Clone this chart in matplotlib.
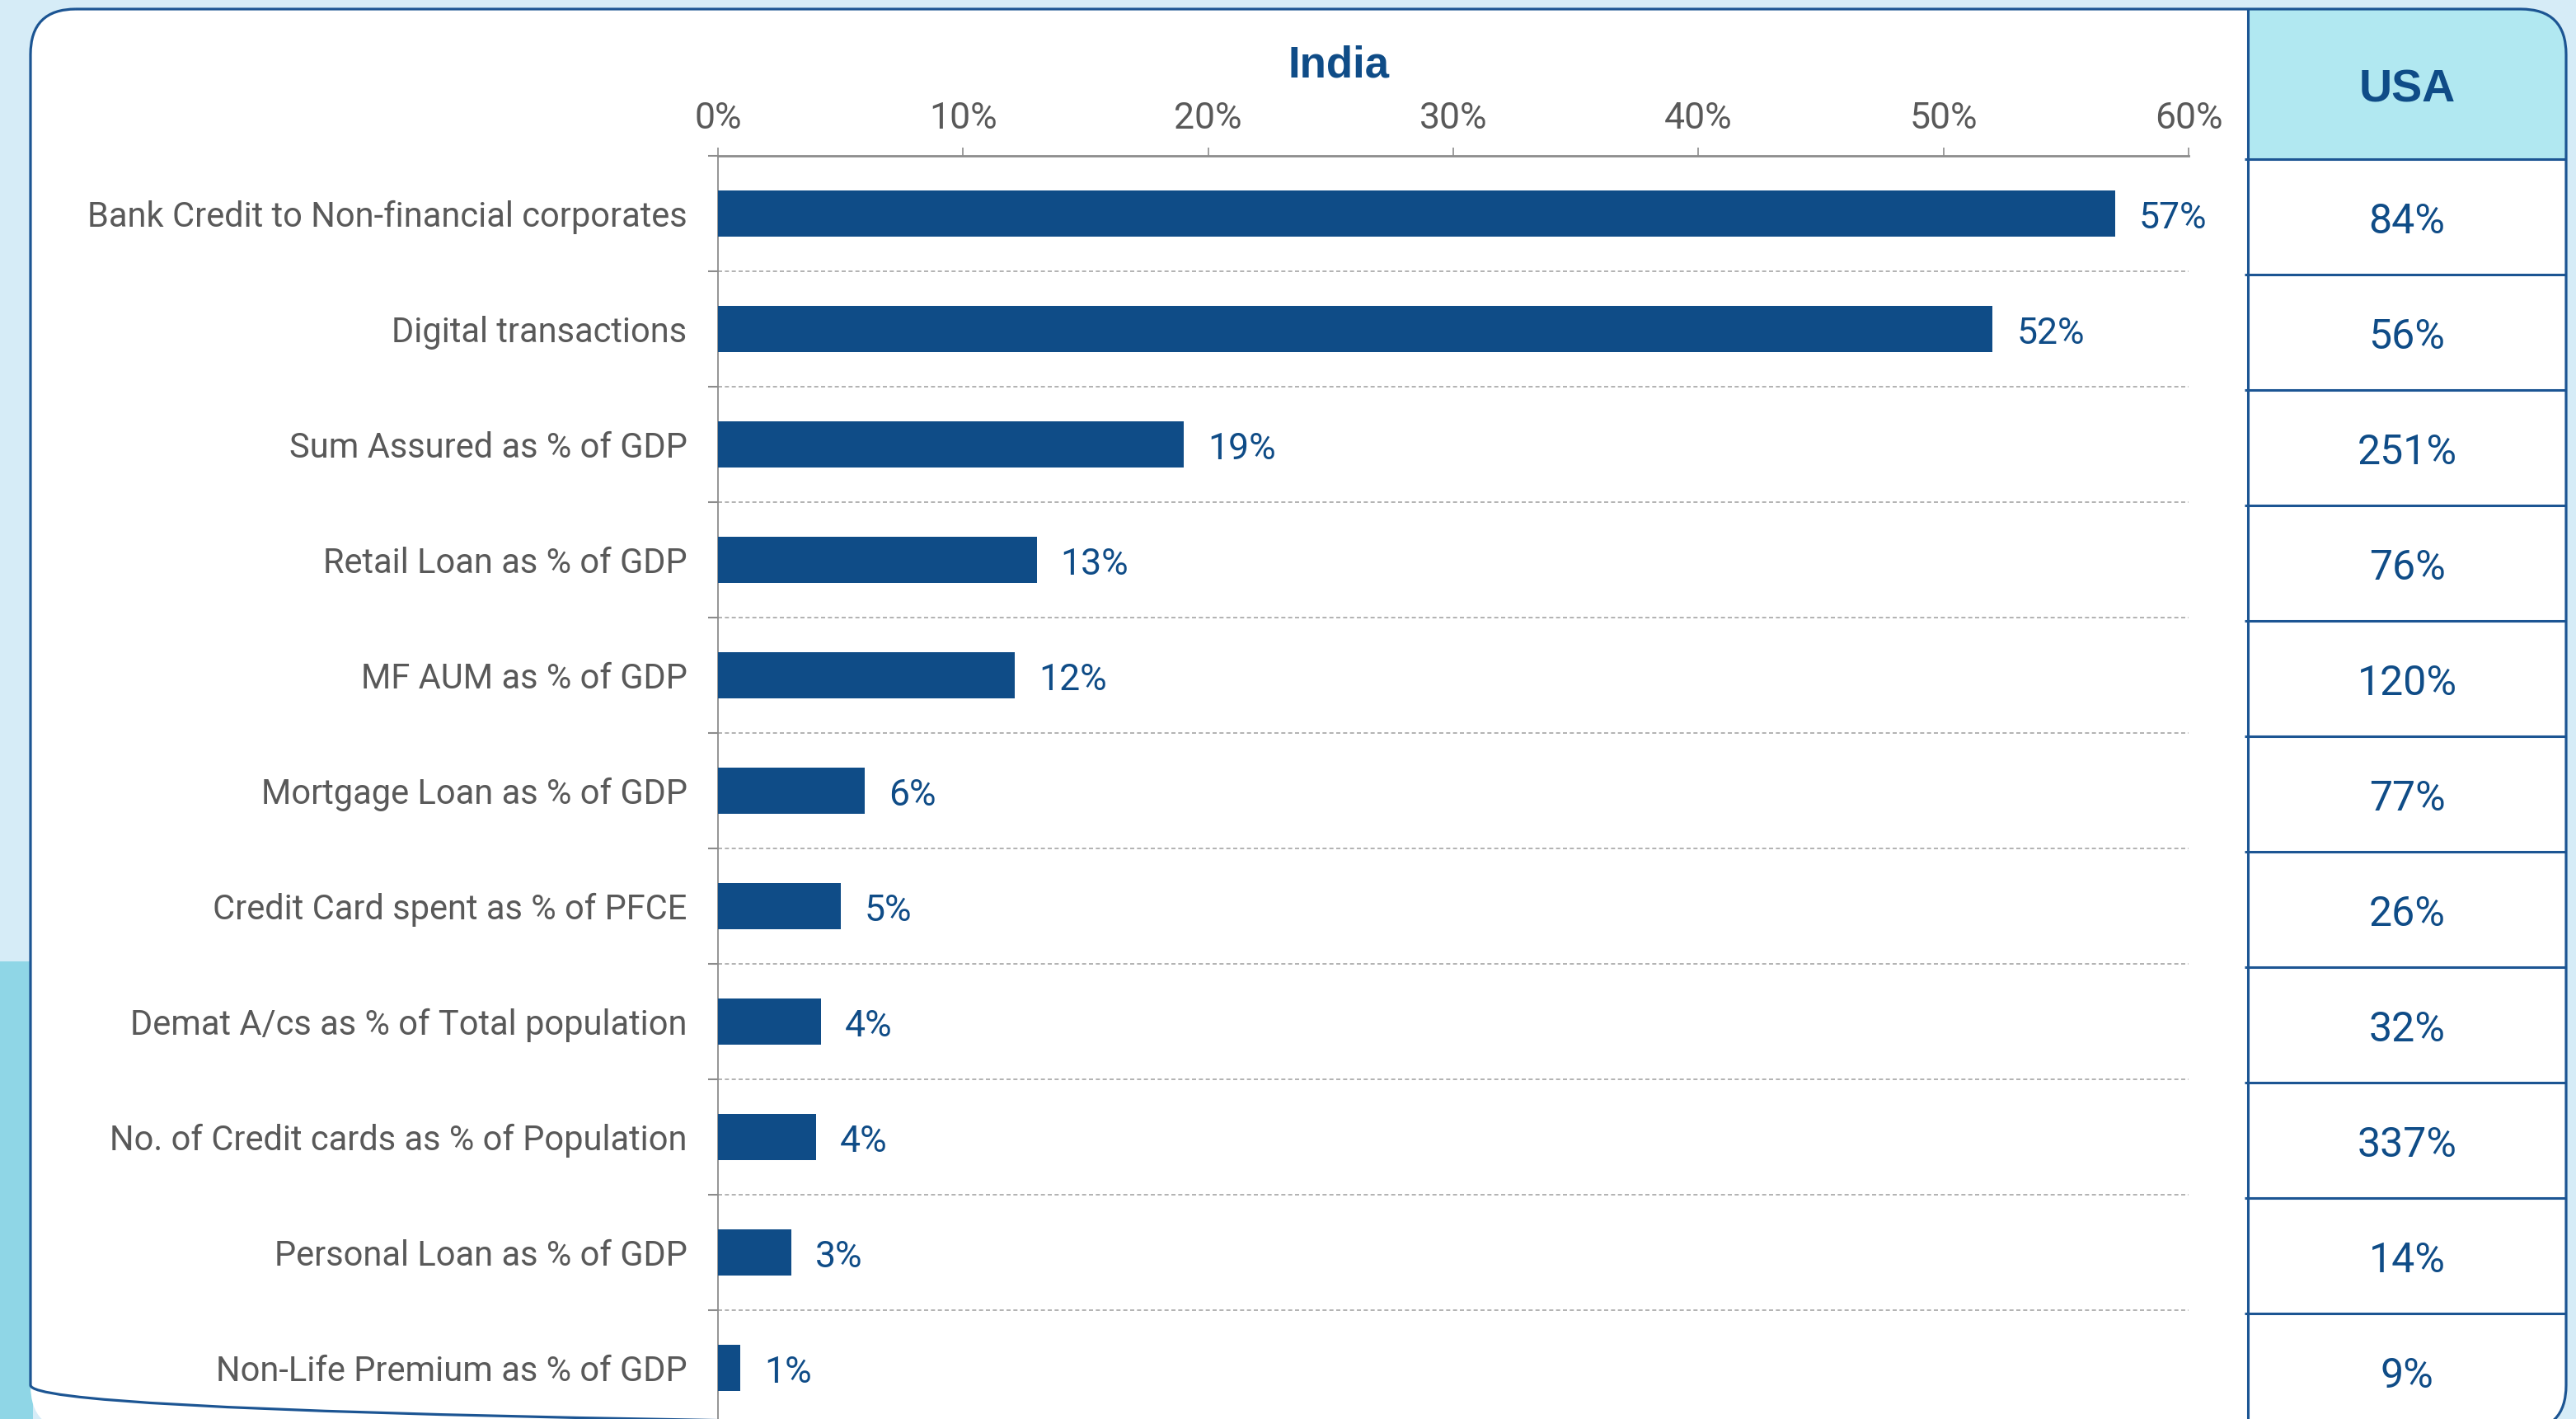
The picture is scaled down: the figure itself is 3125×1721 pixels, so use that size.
import matplotlib
matplotlib.use("Agg")
import matplotlib.pyplot as plt
from matplotlib.patches import FancyBboxPatch, Rectangle

categories = [
    "Bank Credit to Non-financial corporates",
    "Digital transactions",
    "Sum Assured as % of GDP",
    "Retail Loan as % of GDP",
    "MF AUM as % of GDP",
    "Mortgage Loan as % of GDP",
    "Credit Card spent as % of PFCE",
    "Demat A/cs as % of Total population",
    "No. of Credit cards as % of Population",
    "Personal Loan as % of GDP",
    "Non-Life Premium as % of GDP",
]
india = [57.0, 52.0, 19.0, 13.0, 12.1, 6.0, 5.0, 4.2, 4.0, 3.0, 0.9]
usa = [84, 56, 251, 76, 120, 77, 26, 32, 337, 14, 9]
x_ticks = [0, 10, 20, 30, 40, 50, 60]

NAVY = "#0f4c87"
GREY = "#595959"
LINE = "#1c5593"
AXIS = "#8c8c8c"

plt.rcParams['font.family'] = ['Roboto', 'DejaVu Sans']

W, H = 3125, 1721
fig = plt.figure(figsize=(W / 100, H / 100), dpi=100)
fig.patch.set_facecolor("#d6ecf7")


def box(l, t, r, b):
    # pixel box (left, top, right, bottom) -> figure fraction
    return [l / W, 1 - b / H, (r - l) / W, (b - t) / H]


# background, white card and table header
bg = fig.add_axes([0, 0, 1, 1])
bg.set_xlim(0, W)
bg.set_ylim(H, 0)
bg.axis("off")
bg.add_patch(Rectangle((0, 1166), 40, H - 1166, color="#8fd6e6", lw=0))
card = dict(boxstyle="round,pad=0,rounding_size=55")
panel = FancyBboxPatch((37, 11), 3113 - 37, 1735 - 11, fc="white", lw=0, zorder=2, **card)
bg.add_patch(panel)
head = Rectangle((2727, 11), 3113 - 2727, 193 - 11, fc="#b1e8f1", lw=0, zorder=2.5)
head.set_clip_path(panel)
bg.add_patch(head)
bg.add_patch(FancyBboxPatch((37, 11), 3113 - 37, 1735 - 11, fc="none", ec=LINE, lw=2.3, zorder=3, **card))

# India bars
ax = fig.add_axes(box(871, 189, 2655, 1729))
ax.patch.set_alpha(0)
y = list(range(len(categories)))
ax.barh(y, india, height=0.4, color=NAVY, zorder=3)
ax.set_xlim(0, 60)
ax.set_ylim(len(categories) - 0.5, -0.5)

ax.xaxis.tick_top()
ax.set_xticks(x_ticks, [f"{t}%" for t in x_ticks])
ax.tick_params(axis="x", length=7, width=1.2, color=AXIS, pad=10, labelsize=32, labelcolor=GREY)
ax.set_yticks(y, categories)
ax.tick_params(axis="y", which="major", length=0, pad=27, labelsize=30, labelcolor=GREY)
ax.set_yticks([i - 0.5 for i in range(len(categories))], minor=True)
ax.tick_params(axis="y", which="minor", length=9, width=1.5, color=AXIS)
ax.hlines([i + 0.5 for i in range(len(categories) - 1)], 0, 60,
          colors="#a6a6a6", linestyles=(0, (3, 2)), lw=1.2, zorder=1)
for s in ["right", "bottom"]:
    ax.spines[s].set_visible(False)
ax.spines["top"].set_color(AXIS)
ax.spines["top"].set_linewidth(2)
ax.spines["left"].set_color(AXIS)
ax.spines["left"].set_linewidth(1.3)

for i, v in enumerate(india):
    ax.annotate(f"{v:.0f}%", (v, i), xytext=(21, -4), textcoords="offset points",
                va="center", ha="left", fontsize=32, color=NAVY)

fig.text(1624 / W, 1 - 80 / H, "India", ha="center", va="center", fontsize=38,
         weight="bold", color=NAVY, family="Liberation Sans")

# USA table
tab = fig.add_axes(box(2727, 11, 3113, 1733))
tab.set_xlim(0, 1)
tab.set_ylim(len(usa), -1.3)
tab.axis("off")
tab.text(0.5, -0.6, "USA", ha="center", va="center", fontsize=40,
         weight="bold", color=NAVY, family="Liberation Sans")
for i, v in enumerate(usa):
    tab.text(0.5, i + 0.54, f"{v}%", ha="center", va="center", fontsize=36, color=NAVY)
tab.hlines(range(len(usa)), -0.01, 1, colors=LINE, lw=2.2, clip_on=False)
tab.vlines(0, -1.3, len(usa), colors=LINE, lw=2.2, clip_on=False)

fig.savefig("out.png", dpi=100, facecolor=fig.get_facecolor())
